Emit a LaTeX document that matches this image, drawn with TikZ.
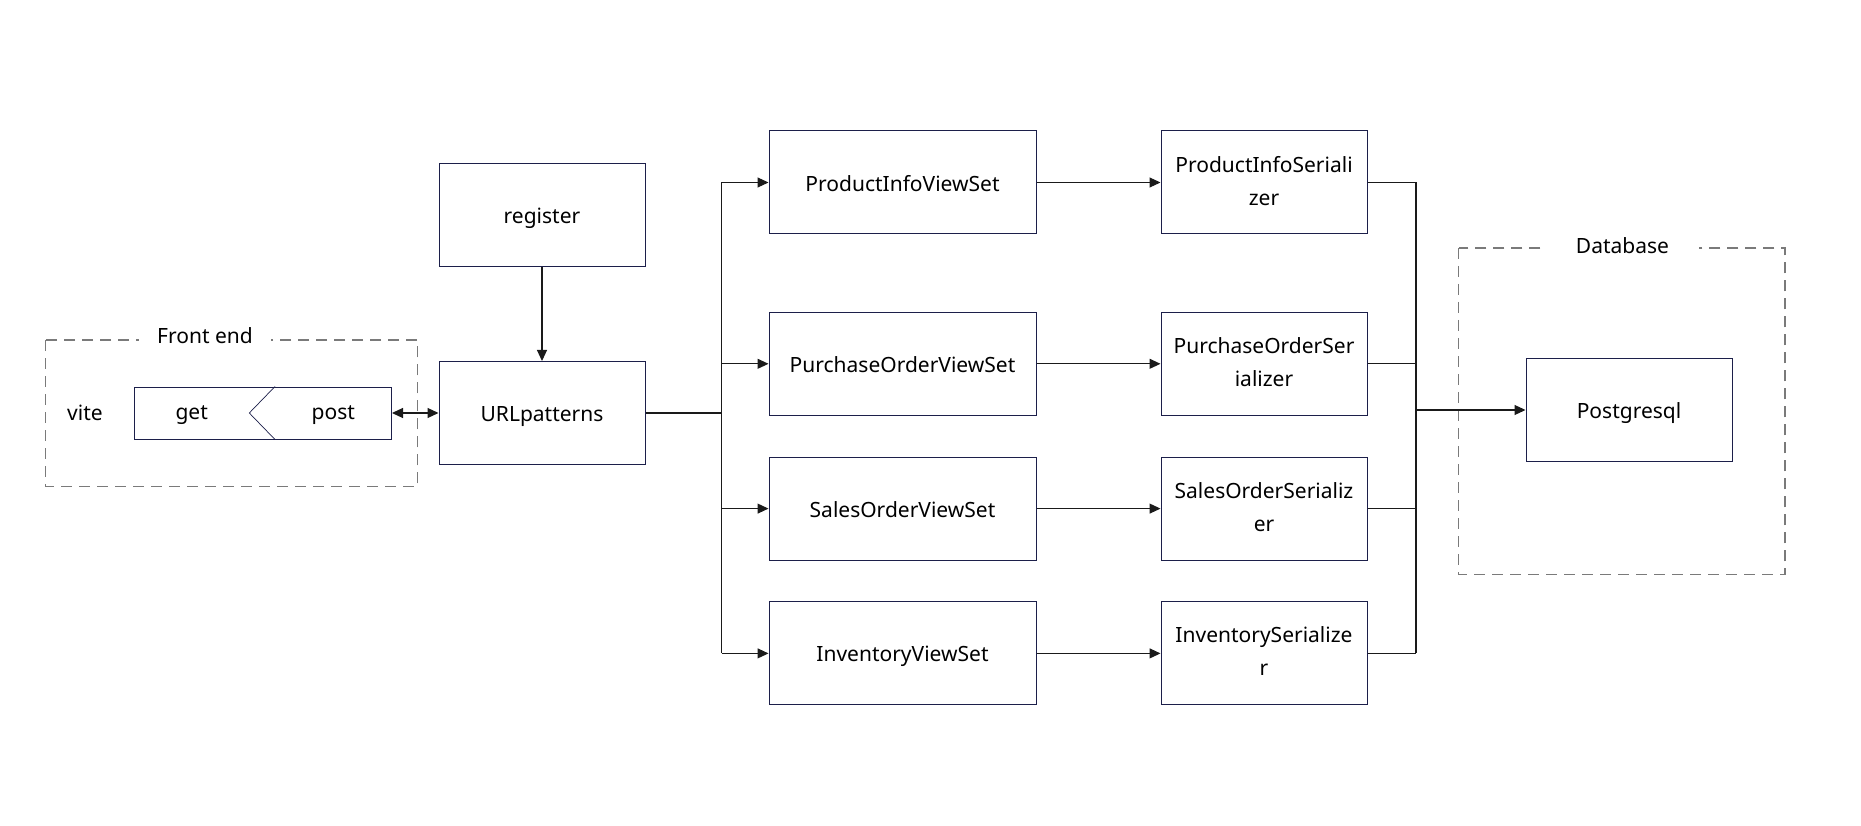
\documentclass[tikz,border=0pt]{standalone}
\usepackage{fontspec}
\setmainfont{Noto Sans}
\usetikzlibrary{arrows.meta,calc}

\definecolor{boxline}{HTML}{1C1F4A}
\definecolor{wire}{HTML}{1A1A1A}
\definecolor{dashgray}{HTML}{7A7A7A}

\newcommand{\boxstrut}{\rule[-4pt]{0pt}{26pt}}

\tikzset{
  box/.style={draw=boxline, line width=1pt, minimum width=206pt, minimum height=103pt,
              align=center, inner sep=2pt, font=\fontsize{21}{33}\selectfont,
              execute at begin node=\boxstrut, execute at end node=\boxstrut},
  wide/.style={box, minimum width=267pt},
  arr/.style={draw=wire, line width=1.1pt, -{Triangle[length=11pt,width=10pt]}},
  wireline/.style={draw=wire, line width=1.1pt},
  group/.style={draw=dashgray, line width=1.4pt, dash pattern=on 11pt off 7pt},
  grouplabel/.style={fill=white, font=\fontsize{21}{24}\selectfont, inner ysep=1pt}
}

\begin{document}
\begin{tikzpicture}[x=1pt,y=-1pt]

\useasboundingbox (0,0) rectangle (1861,826);

% front end group
\draw[group] (45.7,340) rectangle (417.7,486.7);
\node[grouplabel, inner xsep=18pt] (felabel) at (205,336) {Front end};
\node[font=\fontsize{21}{24}\selectfont] (vite) at (85,413) {vite};
\node[draw=boxline, line width=1pt, minimum width=257pt, minimum height=52pt] (gp) at (263,413) {};
\draw[boxline, line width=0.7pt] ($(gp.north)+(12,0)$) -- ($(gp.center)+(-13.7,0)$) -- ($(gp.south)+(12,0)$);
\node[font=\fontsize{21}{24}\selectfont] (get) at (191.7,415) {get};
\node[font=\fontsize{21}{24}\selectfont] (post) at (333.3,415) {post};

% django side
\node[box] (reg) at (542,215.5) {register};
\node[box] (url) at (542,413) {URLpatterns};

\node[wide] (pv) at (902.5,182.5) {ProductInfoViewSet};
\node[wide] (ov) at (902.5,363.8) {PurchaseOrderViewSet};
\node[wide] (sv) at (902.5,508.6) {SalesOrderViewSet};
\node[wide] (iv) at (902.5,653.4) {InventoryViewSet};

\node[box] (ps) at (1264,182.5) {ProductInfoSeriali\\zer};
\node[box] (os) at (1264,363.8) {PurchaseOrderSer\\ializer};
\node[box] (ss) at (1264,508.6) {SalesOrderSerializ\\er};
\node[box] (is) at (1264,653.4) {InventorySerialize\\r};

% database group
\draw[group] (1458.7,248) rectangle (1785,574.5);
\node[grouplabel, inner xsep=30pt] (dblabel) at (1622.5,246) {Database};
\node[box] (db) at (1629,410) {Postgresql};

\coordinate (busL) at (721.6,0);
\coordinate (busR) at (1416,0);

% connectors
\draw[draw=wire, line width=1.1pt, {Triangle[length=11pt,width=10pt]}-{Triangle[length=11pt,width=10pt]}] (gp.east) -- (url.west);
\draw[arr] (reg) -- (url);
\draw[wireline] (url.east) -- (url.east -| busL);
\draw[wireline] (busL |- pv.west) -- (busL |- iv.west);
\foreach \v in {pv,ov,sv,iv}
    \draw[arr] (busL |- \v.west) -- (\v.west);
\draw[arr] (pv) -- (ps);
\draw[arr] (ov) -- (os);
\draw[arr] (sv) -- (ss);
\draw[arr] (iv) -- (is);
\foreach \s in {ps,os,ss,is}
    \draw[wireline] (\s.east) -- (\s.east -| busR);
\draw[wireline] (busR |- ps.east) -- (busR |- is.east);
\draw[arr] (busR |- db.west) -- (db.west);

\end{tikzpicture}
\end{document}
